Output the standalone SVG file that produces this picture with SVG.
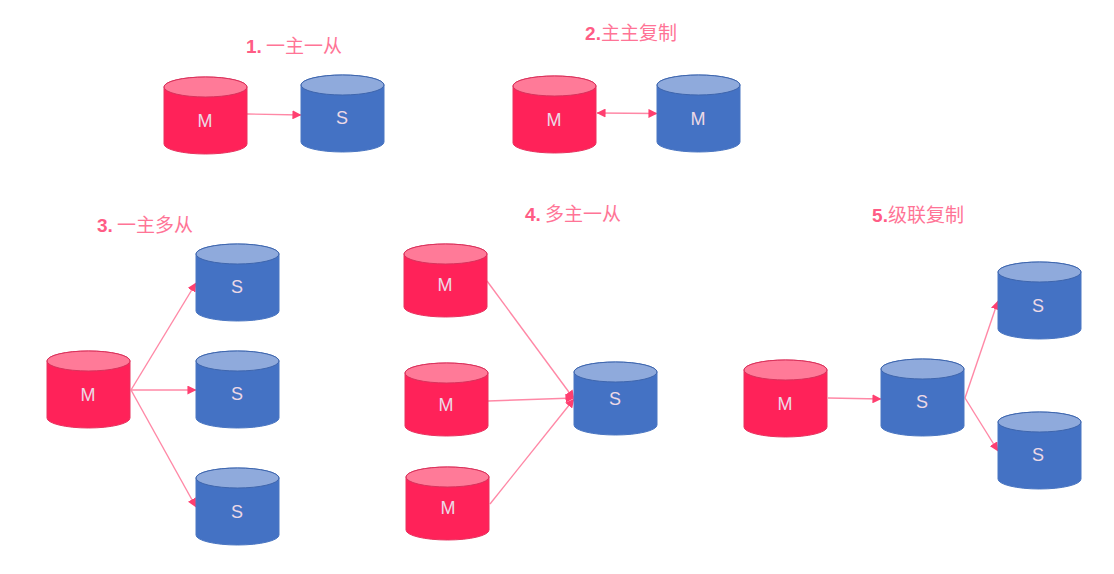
<svg xmlns="http://www.w3.org/2000/svg" width="1114" height="574" viewBox="0 0 1114 574">
<style>
.title{font-family:"Noto Sans CJK SC","Liberation Sans",sans-serif;font-size:19px;fill:#ff7496;text-anchor:middle}
.title .n{font-family:"Liberation Sans","Noto Sans CJK SC",sans-serif;font-weight:bold;fill:#ff5c85}
.lab{font-family:"Liberation Sans",sans-serif;font-size:18px;fill:#ecd9e6;text-anchor:middle}
.red .b{fill:#ff2259;stroke:#e8335f;stroke-width:1}
.red .t{fill:#ff7a98;stroke:#d8335c;stroke-width:1}
.blue .b{fill:#4472c4;stroke:#4a76c2;stroke-width:1}
.blue .t{fill:#8faadc;stroke:#3f66ad;stroke-width:1}
.c{fill:none;stroke:#ff88a6;stroke-width:1.4}
</style>
<defs>
<marker id="a" viewBox="0 0 10 10" refX="9.500" refY="5" markerWidth="9" markerHeight="9" markerUnits="userSpaceOnUse" orient="auto-start-reverse"><path d="M0 0L10 5L0 10Z" fill="#ff3f70"/></marker>
<path id="body" d="M0 10A41.500 10 0 0 1 83 10V67A41.500 10 0 0 1 0 67Z"/>
<path id="bodyS" d="M0 10A41.500 10 0 0 1 83 10V63A41.500 10 0 0 1 0 63Z"/>
<ellipse id="top" cx="41.500" cy="10" rx="41.500" ry="10"/>
</defs>
<g id="titles">
<text id="t1" class="title" x="294" y="53"><tspan class="n">1.</tspan> 一主一从</text>
<text id="t2" class="title" x="631" y="40"><tspan class="n">2.</tspan>主主复制</text>
<text id="t3" class="title" x="145" y="232"><tspan class="n">3.</tspan> 一主多从</text>
<text id="t4" class="title" x="573" y="221"><tspan class="n">4.</tspan> 多主一从</text>
<text id="t5" class="title" x="918" y="222"><tspan class="n">5.</tspan>级联复制</text>
</g>
<g id="connectors">
<path class="c" marker-end="url(#a)" d="M247 114L301 115"/>
<path class="c" marker-start="url(#a)" marker-end="url(#a)" d="M597 113L657 113.500"/>
<path class="c" marker-end="url(#a)" d="M131 390L196 283"/>
<path class="c" marker-end="url(#a)" d="M131 390L196 390"/>
<path class="c" marker-end="url(#a)" d="M131 390L196 507"/>
<path class="c" marker-end="url(#a)" d="M487 281L574 399"/>
<path class="c" marker-end="url(#a)" d="M488 401L574 398"/>
<path class="c" marker-end="url(#a)" d="M490 504L574 399"/>
<path class="c" marker-end="url(#a)" d="M828 398L881 399"/>
<path class="c" marker-end="url(#a)" d="M965 398L998 301"/>
<path class="c" marker-end="url(#a)" d="M965 398L998 451"/>
</g>
<g id="n1" class="red"><use href="#body" class="b" x="164" y="77"/><use href="#top" class="t" x="164" y="77"/><text class="lab" x="205" y="127">M</text></g>
<g id="n2" class="blue"><use href="#body" class="b" x="301" y="75"/><use href="#top" class="t" x="301" y="75"/><text class="lab" x="342" y="124">S</text></g>
<g id="n3" class="red"><use href="#body" class="b" x="513" y="76"/><use href="#top" class="t" x="513" y="76"/><text class="lab" x="554" y="126">M</text></g>
<g id="n4" class="blue"><use href="#body" class="b" x="657" y="75"/><use href="#top" class="t" x="657" y="75"/><text class="lab" x="698" y="125">M</text></g>
<g id="n5" class="blue"><use href="#body" class="b" x="196" y="244"/><use href="#top" class="t" x="196" y="244"/><text class="lab" x="237" y="293">S</text></g>
<g id="n6" class="blue"><use href="#body" class="b" x="196" y="351"/><use href="#top" class="t" x="196" y="351"/><text class="lab" x="237" y="400">S</text></g>
<g id="n7" class="blue"><use href="#body" class="b" x="196" y="468"/><use href="#top" class="t" x="196" y="468"/><text class="lab" x="237" y="518">S</text></g>
<g id="n8" class="red"><use href="#body" class="b" x="47" y="351"/><use href="#top" class="t" x="47" y="351"/><text class="lab" x="88" y="401">M</text></g>
<g id="n9" class="red"><use href="#bodyS" class="b" x="404" y="244"/><use href="#top" class="t" x="404" y="244"/><text class="lab" x="445" y="291">M</text></g>
<g id="n10" class="red"><use href="#bodyS" class="b" x="405" y="363"/><use href="#top" class="t" x="405" y="363"/><text class="lab" x="446" y="411">M</text></g>
<g id="n11" class="red"><use href="#bodyS" class="b" x="406" y="467"/><use href="#top" class="t" x="406" y="467"/><text class="lab" x="448" y="514">M</text></g>
<g id="n12" class="blue"><use href="#bodyS" class="b" x="574" y="362"/><use href="#top" class="t" x="574" y="362"/><text class="lab" x="615" y="405">S</text></g>
<g id="n13" class="red"><use href="#body" class="b" x="744" y="360"/><use href="#top" class="t" x="744" y="360"/><text class="lab" x="785" y="410">M</text></g>
<g id="n14" class="blue"><use href="#body" class="b" x="881" y="359"/><use href="#top" class="t" x="881" y="359"/><text class="lab" x="922" y="408">S</text></g>
<g id="n15" class="blue"><use href="#body" class="b" x="998" y="262"/><use href="#top" class="t" x="998" y="262"/><text class="lab" x="1038" y="312">S</text></g>
<g id="n16" class="blue"><use href="#body" class="b" x="998" y="412"/><use href="#top" class="t" x="998" y="412"/><text class="lab" x="1038" y="461">S</text></g>
</svg>
